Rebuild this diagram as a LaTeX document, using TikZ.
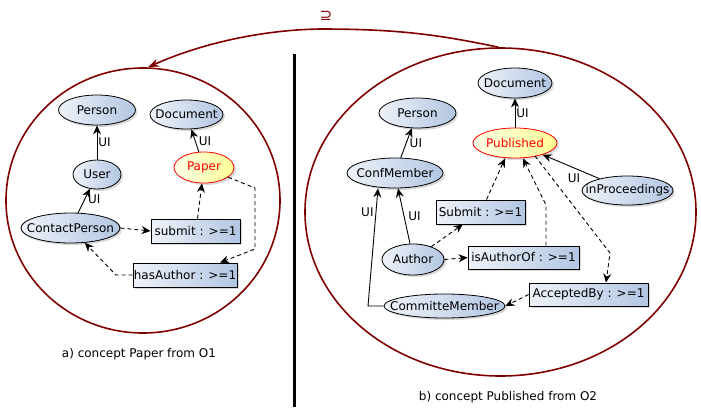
\documentclass[tikz,border=0pt]{standalone}
\usepackage{fontspec}
\setmainfont{DejaVu Sans}
\usetikzlibrary{shapes.geometric,arrows.meta,shadows}
\definecolor{dred}{RGB}{128,0,0}
\definecolor{nlight}{RGB}{238,242,249}
\definecolor{ndark}{RGB}{178,198,226}
\definecolor{ylight}{RGB}{255,255,232}
\definecolor{ydark}{RGB}{255,255,150}
\newcommand\ntx[1]{\makebox[0pt]{#1}}
\tikzset{
  txt/.style={font=\fontsize{12}{14}\selectfont},
  shd/.style={drop shadow={shadow xshift=2pt,shadow yshift=-2pt,opacity=0.3}},
  cls/.style={ellipse, draw=black, line width=0.8pt, left color=nlight, right color=ndark,
              inner sep=0pt, txt, shd},
  hl/.style={ellipse, draw=red, line width=0.8pt, left color=ylight, right color=ydark,
              inner sep=0pt, txt, text=red, shd},
  rbox/.style={rectangle, draw=black, line width=0.8pt, left color=nlight, right color=ndark,
              inner sep=0pt, txt, shd},
  sz/.style 2 args={minimum width=#1pt, minimum height=#2pt},
  frame/.style={ellipse, draw=dred, line width=1.6pt, inner sep=0pt},
  isa/.style={line width=0.9pt, -{Stealth[length=9pt,width=8pt]}},
  prop/.style={line width=0.9pt, dash pattern=on 4pt off 3pt, -{Stealth[length=9pt,width=8pt]}},
  lbl/.style={txt, inner sep=1pt},
}
\begin{document}
\begin{tikzpicture}[x=1pt,y=-1pt]
\useasboundingbox (0,0) rectangle (701,418);
% frames
\node[frame, sz={274}{265}] (lc) at (143,200.5) {};
\node[frame, sz={391}{328}] (rc) at (500.5,212) {};
\coordinate (ltop) at (294,54);
\coordinate (lbot) at (294,407);
\draw[line width=3pt] (ltop) -- (lbot);
\draw[dred, line width=1.6pt, -{Stealth[length=11pt,width=8pt]}]
  ([xshift=-2pt]rc.north) .. controls (440,35) and (400,29) .. (320,29)
  .. controls (260,30) and (200,44) .. ([xshift=5pt]lc.north);
\node[text=dred, font=\fontsize{15}{17}\selectfont] (sup) at (326,16) {⊇};

% left diagram
\node[cls, sz={77}{30}] (lperson) at (97,110) {\ntx{Person}};
\node[cls, sz={73}{29}] (ldoc) at (186.5,114.5) {\ntx{Document}};
\node[cls, sz={48}{29}] (user) at (97,174.5) {\ntx{User}};
\node[hl, sz={60}{31}] (paper) at (204,167.5) {\ntx{Paper}};
\node[cls, sz={99}{30}] (cp) at (70.5,228) {\ntx{ContactPerson}};
\node[rbox, sz={89}{24}] (submit) at (195.5,231) {\ntx{submit : >=1}};
\node[rbox, sz={104}{24}] (hasa) at (185,275) {\ntx{hasAuthor : >=1}};

\draw[isa] (user) -- (lperson) node[lbl, pos=0.5, anchor=west] {UI};
\draw[isa] (paper) -- (ldoc) node[lbl, pos=0.45, anchor=west, xshift=2pt] {UI};
\draw[isa] (cp) -- (user) node[lbl, pos=0.55, anchor=west, xshift=2pt] {UI};
\draw[prop] (cp.east) -- (submit.west);
\draw[prop] ([xshift=2pt]submit.north) -- (paper);
\coordinate (pa1) at (255,188);
\coordinate (pa2) at (255,249);
\draw[prop] (paper) -- (pa1) -- (pa2) -- ([xshift=35pt]hasa.north);
\coordinate (ha1) at (116,275);
\draw[prop] (hasa.west) -- (ha1) -- (cp);
\node[txt] (capa) at (139,354) {a) concept Paper from O1};

% right diagram
\node[cls, sz={74}{30}] (rdoc) at (515,83) {\ntx{Document}};
\node[cls, sz={77}{30}] (rperson) at (417.5,113) {\ntx{Person}};
\node[hl, sz={84}{30}] (pub) at (515,143) {\ntx{Published}};
\node[cls, sz={96}{30}] (confm) at (395,173) {\ntx{ConfMember}};
\node[cls, sz={91}{29}] (inproc) at (627.5,190.5) {\ntx{inProceedings}};
\node[rbox, sz={89}{24}] (sub2) at (480.5,212) {\ntx{Submit : >=1}};
\node[cls, sz={62}{31}] (author) at (413,259.5) {\ntx{Author}};
\node[rbox, sz={111}{23}] (isauth) at (523.5,257.5) {\ntx{isAuthorOf : >=1}};
\node[rbox, sz={119}{23}] (accb) at (588.5,294.5) {\ntx{AcceptedBy : >=1}};
\node[cls, sz={121}{24}] (comm) at (444.5,306) {\ntx{CommitteMember}};

\draw[isa] (confm) -- (rperson) node[lbl, pos=0.5, anchor=west, xshift=2pt] {UI};
\draw[isa] (pub) -- (rdoc) node[lbl, pos=0.5, anchor=west] {UI};
\draw[isa] (inproc) -- (pub) node[lbl, pos=0.45, anchor=north, yshift=-4pt] {UI};
\draw[prop] ([xshift=6pt]sub2.north) -- ([xshift=-10pt]pub.south);
\coordinate (ia1) at (546,205);
\draw[prop] ([xshift=22.5pt]isauth.north) -- (ia1) -- ([xshift=8pt]pub.south);
\coordinate (pb1) at (535,156);
\coordinate (pb2) at (610,253);
\draw[prop] (pb1) -- (pb2) -- ([xshift=17.5pt]accb.north);
\draw[prop] (accb.west) -- (comm.east);
\draw[prop] (author) -- (sub2);
\draw[prop] (author.east) -- (isauth.west);
\draw[isa] ([xshift=-3pt]author.north) -- ([xshift=3pt]confm.south)
  node[lbl, pos=0.5, anchor=west, xshift=3pt] {UI};
\coordinate (cm1) at (368,306);
\draw[isa] (comm.west) -- (cm1) -- ([xshift=-17pt]confm.south)
  node[lbl, pos=0.8, anchor=east, xshift=-1pt] {UI};
\node[txt] (capb) at (508,397) {b) concept Published from O2};
\end{tikzpicture}
\end{document}
